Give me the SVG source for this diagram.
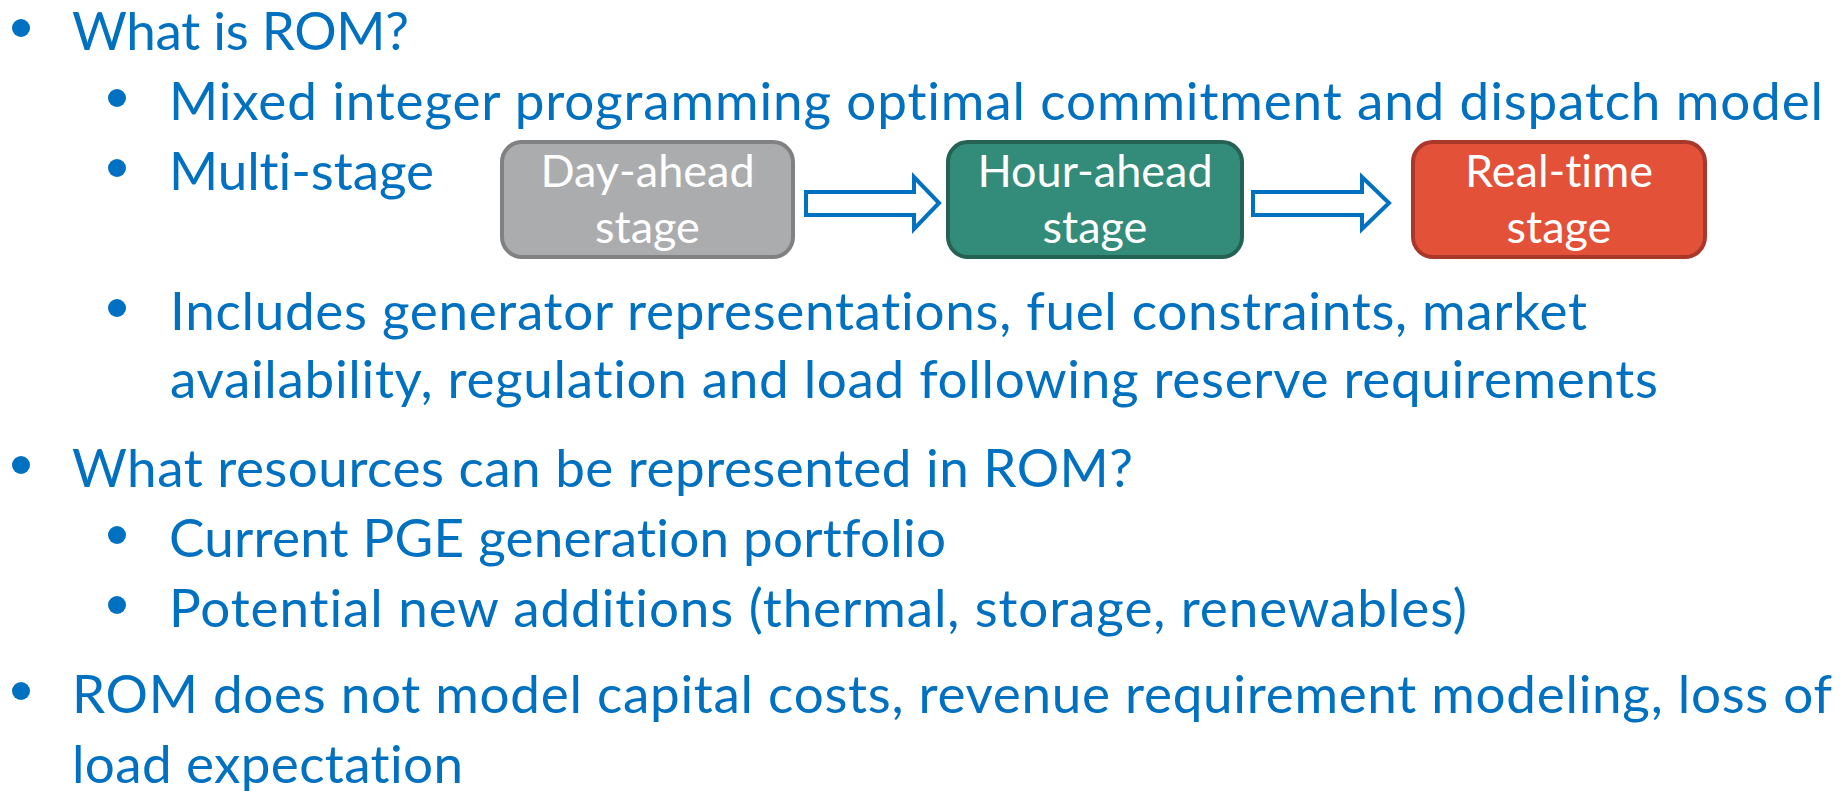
<svg xmlns="http://www.w3.org/2000/svg" width="1847" height="791" viewBox="0 0 1847 791">
  <style>
    text { font-variant-ligatures: none; font-feature-settings: "liga" 0, "clig" 0; }
    .body { font-family: Lato, "Open Sans", "Liberation Sans", sans-serif; font-size: 53px; fill: #0070c0; }
    .dot { fill: #0070c0; }
    .label { font-family: Lato, "Open Sans", "Liberation Sans", sans-serif; font-size: 45px; fill: #ffffff; text-anchor: middle; }
    .arrow { fill: #ffffff; stroke: #0070c0; stroke-width: 4; stroke-linejoin: miter; }
  </style>
  <rect width="1847" height="791" fill="#ffffff"/>

  <!-- Bulleted list: round markers, then the line text -->
  <g id="bullets">
    <circle class="dot" cx="21" cy="28" r="9"/>
    <text class="body" x="72" y="50" textLength="337" lengthAdjust="spacing">What is ROM?</text>

    <circle class="dot" cx="117" cy="98" r="9"/>
    <text class="body" x="169" y="120" textLength="1654" lengthAdjust="spacing">Mixed integer programming optimal commitment and dispatch model</text>

    <circle class="dot" cx="117" cy="168" r="9"/>
    <text class="body" x="169" y="190" textLength="265" lengthAdjust="spacing">Multi-stage</text>

    <circle class="dot" cx="117" cy="308" r="9"/>
    <text class="body" x="170" y="330" textLength="1417" lengthAdjust="spacing">Includes generator representations, fuel constraints, market</text>
    <text class="body" x="170" y="398" textLength="1488" lengthAdjust="spacing">availability, regulation and load following reserve requirements</text>

    <circle class="dot" cx="21" cy="465" r="9"/>
    <text class="body" x="72" y="487" textLength="1061" lengthAdjust="spacing">What resources can be represented in ROM?</text>

    <circle class="dot" cx="117" cy="535" r="9"/>
    <text class="body" x="169" y="557" textLength="777" lengthAdjust="spacing">Current PGE generation portfolio</text>

    <circle class="dot" cx="117" cy="605" r="9"/>
    <text class="body" x="169" y="627" textLength="1298" lengthAdjust="spacing">Potential new additions (thermal, storage, renewables)</text>

    <circle class="dot" cx="21" cy="691" r="9"/>
    <text class="body" x="72" y="713" textLength="1760" lengthAdjust="spacing">ROM does not model capital costs, revenue requirement modeling, loss of</text>
    <text class="body" x="72" y="783" textLength="391" lengthAdjust="spacing">load expectation</text>
  </g>

  <!-- Stage boxes -->
  <g id="day-ahead">
    <rect x="502" y="142" width="291" height="115" rx="20" fill="#abacae" stroke="#808183" stroke-width="4"/>
    <text class="label" x="647.5" y="187">Day-ahead</text>
    <text class="label" x="647.5" y="243">stage</text>
  </g>
  <g id="hour-ahead">
    <rect x="948" y="142" width="294" height="115" rx="20" fill="#338b79" stroke="#246354" stroke-width="4"/>
    <text class="label" x="1095" y="187">Hour-ahead</text>
    <text class="label" x="1095" y="243">stage</text>
  </g>
  <g id="real-time">
    <rect x="1413" y="142" width="292" height="115" rx="20" fill="#e25138" stroke="#a9382a" stroke-width="4"/>
    <text class="label" x="1559" y="187">Real-time</text>
    <text class="label" x="1559" y="243">stage</text>
  </g>

  <!-- Hollow block arrows between stages -->
  <g id="connectors">
    <path class="arrow" d="M806,192 H914 V177 L939,203 L914,229 V215 H806 Z"/>
    <path class="arrow" d="M1253,192 H1362 V177 L1389,203 L1362,229 V215 H1253 Z"/>
  </g>
</svg>
